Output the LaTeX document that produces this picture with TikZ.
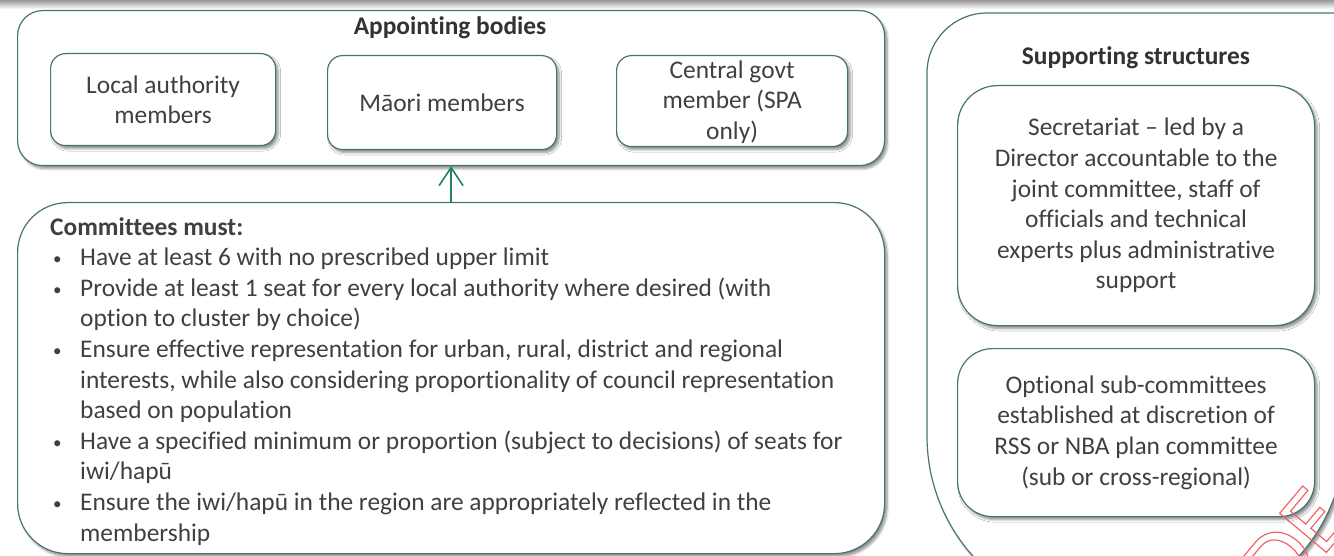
\documentclass[tikz,border=0pt]{standalone}
\usepackage{fontspec}
\setmainfont{Carlito}[Ligatures={NoCommon}]
\usetikzlibrary{shadows.blur,arrows.meta}
\definecolor{bordc}{RGB}{72,118,110}
\definecolor{txtc}{RGB}{64,64,64}
\definecolor{titc}{RGB}{50,50,50}
\definecolor{arrc}{RGB}{38,128,98}
\definecolor{wmred}{RGB}{245,90,90}
\newcommand{\blt}{\makebox[30pt][l]{\hspace*{3pt}\raisebox{1pt}{\fontsize{17}{17}\selectfont•}}}
\newcommand{\ind}{\hspace*{30pt}}
\begin{document}
\begin{tikzpicture}[x=1pt,y=-1pt,
  shad/.style={blur shadow={shadow xshift=2.5pt,shadow yshift=-3pt,shadow blur steps=6,shadow blur radius=2.5pt,shadow opacity=45}},
  boxr/.style={draw=bordc, line width=1.2pt, fill=white, rounded corners=#1, shad, inner sep=0pt, anchor=north west},
  body/.style={font=\fontsize{25.4}{30.6}\selectfont, text=txtc, inner sep=0pt},
  ttl/.style={font=\fontsize{25.4}{28}\selectfont\bfseries, text=titc, inner sep=0pt}
]
\useasboundingbox (0,0) rectangle (1334,556);
% shadow of the box above (cut off)
\shade[top color=black!40, bottom color=white] (0,0) rectangle (1334,9);

% Appointing bodies
\node[boxr=25pt, minimum width=867pt, minimum height=155pt] (app) at (17,10) {};
\node[ttl] (apptitle) at (450,28) {Appointing bodies};
\node[boxr=15pt, minimum width=225pt, minimum height=92pt] (la) at (50,53) {};
\node[body, align=center] (latext) at (la.center) {Local authority\\members};
\node[boxr=15pt, minimum width=229pt, minimum height=94pt] (maori) at (327,55) {};
\node[body, align=center] (maoritext) at (maori.center) {Māori members};
\node[boxr=15pt, minimum width=231pt, minimum height=91pt] (cg) at (616,55) {};
\node[body, align=center] (cgtext) at ([yshift=-1pt]cg.center) {Central govt\\member (SPA\\only)};

% Committees
\node[boxr=50pt, minimum width=867pt, minimum height=351pt] (comm) at (17,202) {};
\node[body, align=left, anchor=north west] (commtext) at (50,217) {%
{\bfseries Committees must:}\\
\blt Have at least 6 with no prescribed upper limit\\
\blt Provide at least 1 seat for every local authority where desired (with\\
\ind option to cluster by choice)\\
\blt Ensure effective representation for urban, rural, district and regional\\
\ind interests, while also considering proportionality of council representation\\
\ind based on population\\
\blt Have a specified minimum or proportion (subject to decisions) of seats for\\
\ind iwi/hapū\\
\blt Ensure the iwi/hapū in the region are appropriately reflected in the\\
\ind membership};

\draw[arrc, line width=1.6pt, -{Straight Barb[length=18pt,width=24pt,line width=1.6pt]}] (comm.north) -- (app.south);

% Supporting structures (cut off at right and bottom)
\path[shad, draw=bordc, line width=1.2pt, fill=white]
  (1345,13) [rounded corners=60pt] -| (927,300) [rounded corners=180pt] |- (1345,616) [sharp corners] -- cycle;
\node[ttl] (suptitle) at (1136,58) {Supporting structures};
\node[boxr=40pt, minimum width=357pt, minimum height=240pt] (sec) at (957,85) {};
\node[body, align=center] (sectext) at (sec.center) {Secretariat – led by a\\Director accountable to the\\joint committee, staff of\\officials and technical\\experts plus administrative\\support};
\node[boxr=35pt, minimum width=357pt, minimum height=168pt] (opt) at (957,348) {};
\node[body, align=center] (opttext) at (opt.center) {Optional sub-committees\\established at discretion of\\RSS or NBA plan committee\\(sub or cross-regional)};

% watermark fragment
\begin{scope}
\clip (0,0) rectangle (1334,556);
\node[font=\fontsize{95}{95}\selectfont, text=wmred, rotate=50, anchor=base east, inner sep=0pt] (wm) at (1352,522)
  {\special{pdf:literal direct 1 Tr 1.1 w}IN CONFIDE\special{pdf:literal direct 0 Tr}};
\end{scope}
\end{tikzpicture}
\end{document}
